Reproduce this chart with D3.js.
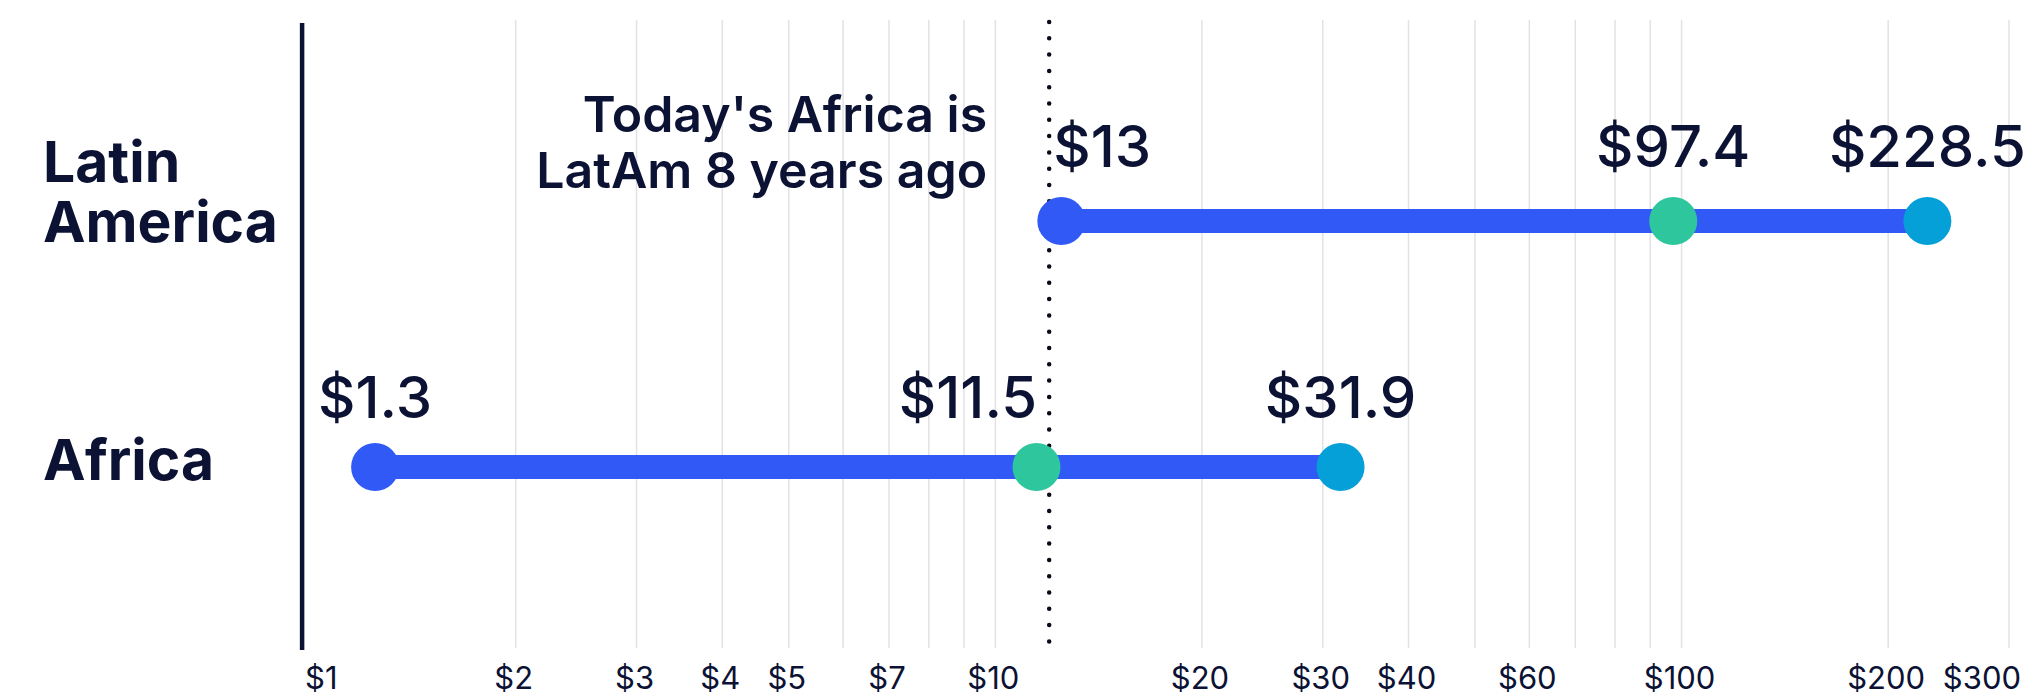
<!DOCTYPE html>
<html>
<head>
<meta charset="utf-8">
<script src="https://cdn.jsdelivr.net/npm/d3@7"></script>
<style>
  html, body { margin: 0; padding: 0; background: #ffffff; }
  svg { display: block; font-family: Inter, "Noto Sans", sans-serif; }
</style>
</head>
<body>
<svg id="chart" width="2033" height="698"></svg>
<script>
// ---- data ----
const categories = ["Latin America", "Africa"];
const categoryLines = [["Latin", "America"], ["Africa"]];
const startValues = [12.5, 1.25];
const midValues = [97.4, 11.5];
const endValues = [228.5, 31.9];
const startLabels = ["$13", "$1.3"];
const midLabels = ["$97.4", "$11.5"];
const endLabels = ["$228.5", "$31.9"];
const tickValues = [1, 2, 3, 4, 5, 7, 10, 20, 30, 40, 60, 100, 200, 300];
const tickLabels = ["$1", "$2", "$3", "$4", "$5", "$7", "$10", "$20", "$30", "$40", "$60", "$100", "$200", "$300"];
const referenceValue = 12;
const annotationLines = ["Today's Africa is", "LatAm 8 years ago"];

// ---- styles ----
const navy = "#0b1233";
const lineBlue = "#3159f5";
const startColor = "#3159f5";
const midColor = "#2ec79d";
const endColor = "#05a0d8";

const svg = d3.select("#chart");
const plotTop = 20, plotBottom = 648;

const x = d3.scaleLog().domain([1, 300]).range([308.6, 2008.5]);
const y = d3.scalePoint().domain(categories).range([221, 467]);

// gridlines
const gridAxis = d3.axisBottom(x)
  .tickValues(x.ticks().filter(v => v > 1))
  .tickSize(-(plotBottom - plotTop))
  .tickFormat("");
const grid = svg.append("g")
  .attr("transform", `translate(0,${plotBottom})`)
  .call(gridAxis);
grid.select(".domain").remove();
grid.selectAll(".tick line").attr("stroke", "#e2e2e5").attr("stroke-width", 1.5);

// tick labels
const labelAxis = d3.axisBottom(x)
  .tickValues(tickValues)
  .tickSize(0)
  .tickFormat((d, i) => tickLabels[i]);
const ax = svg.append("g")
  .attr("transform", `translate(0,${plotBottom})`)
  .call(labelAxis);
ax.select(".domain").remove();
ax.selectAll(".tick text")
  .attr("font-family", "Inter, 'Noto Sans', sans-serif")
  .attr("font-size", 31)
  .attr("font-weight", 400)
  .attr("fill", navy)
  .attr("y", 41)
  .attr("dy", 0)
  .each(function(d, i) {
    const t = d3.select(this);
    if (i === 0) { t.attr("text-anchor", "start").attr("x", -4); }
    else if (i === tickValues.length - 1) { t.attr("text-anchor", "end").attr("x", 12); }
    else { t.attr("text-anchor", "middle").attr("x", -2); }
  });

// vertical axis line
svg.append("line")
  .attr("x1", x.range()[0] - 6.5).attr("x2", x.range()[0] - 6.5)
  .attr("y1", plotTop + 3).attr("y2", plotBottom + 2)
  .attr("stroke", navy).attr("stroke-width", 4.5);

// category labels
categories.forEach((c, i) => {
  const lines = categoryLines[i];
  const firstBaseline = lines.length > 1 ? y(c) - 39 : y(c) + 13;
  lines.forEach((ln, j) => {
    svg.append("text")
      .attr("x", 43)
      .attr("y", firstBaseline + j * 60)
      .attr("font-size", 57)
      .attr("font-weight", 700)
      .attr("fill", navy)
      .text(ln);
  });
});

// reference dotted line
const xRef = x(referenceValue);
svg.append("line")
  .attr("x1", xRef).attr("x2", xRef)
  .attr("y1", plotTop + 2).attr("y2", plotBottom + 4)
  .attr("stroke", "#0a0a18")
  .attr("stroke-width", 4.5)
  .attr("stroke-linecap", "round")
  .attr("stroke-dasharray", "0 16.3");

// annotation
annotationLines.forEach((ln, j) => {
  svg.append("text")
    .attr("text-anchor", "end")
    .attr("x", xRef - 62)
    .attr("y", 132 + j * 56)
    .attr("font-size", 50)
    .attr("font-weight", 600)
    .attr("fill", navy)
    .text(ln);
});

// dumbbell lines
categories.forEach((c, i) => {
  svg.append("line")
    .attr("x1", x(startValues[i])).attr("x2", x(endValues[i]))
    .attr("y1", y(c)).attr("y2", y(c))
    .attr("stroke", lineBlue)
    .attr("stroke-width", 24);
});

// dots + labels
const series = [
  { values: startValues, labels: startLabels, color: startColor },
  { values: midValues, labels: midLabels, color: midColor },
  { values: endValues, labels: endLabels, color: endColor }
];
series.forEach(s => {
  categories.forEach((c, i) => {
    svg.append("circle")
      .attr("cx", x(s.values[i]))
      .attr("cy", y(c))
      .attr("r", 24)
      .attr("fill", s.color);
  });
});
series.forEach(s => {
  categories.forEach((c, i) => {
    const cx = x(s.values[i]);
    let anchor = "middle", lx = cx;
    if (Math.abs(cx - xRef) < 30) {
      if (cx > xRef) { anchor = "start"; lx = xRef + 4; }
      else { anchor = "end"; lx = xRef - 12; }
    }
    svg.append("text")
      .attr("x", lx)
      .attr("y", y(c) - (i === 0 ? 54 : 49))
      .attr("text-anchor", anchor)
      .attr("font-size", 58)
      .attr("font-weight", 500)
      .attr("fill", navy)
      .text(s.labels[i]);
  });
});
</script>
</body>
</html>
